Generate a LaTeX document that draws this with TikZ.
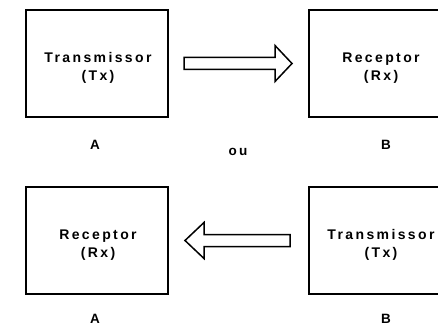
\documentclass[tikz,border=0pt]{standalone}
\usepackage{fontspec}
\setmainfont{Liberation Sans}
\newfontfamily\lblfont[LetterSpace=17]{Liberation Sans}
\usetikzlibrary{calc}
\begin{document}
\begin{tikzpicture}[x=1pt,y=-1pt,
  box/.style={draw=black,line width=2pt,minimum width=142pt,minimum height=107pt,inner sep=0pt},
  txt/.style={inner sep=0pt,anchor=base,font=\lblfont\bfseries\fontsize{14}{17}\selectfont},
  lbl/.style={inner sep=0pt,font=\lblfont\bfseries\fontsize{13.5}{16}\selectfont},
  blockarrow/.style={draw=black,line width=1.5pt,fill=white,line join=miter}]
\useasboundingbox (0,0) rectangle (438,326);
\node[box] (b1) at (97,63.5) {};
\node[box] (b2) at (380,63.5) {};
\node[box] (b3) at (97,240.5) {};
\node[box] (b4) at (380,240.5) {};
\node[txt] (b1t) at ($(b1.center)+(1,-0.8)$) {Transmissor};
\node[txt] (b1s) at ($(b1.center)+(1,17.2)$) {(Tx)};
\node[txt] (b2t) at ($(b2.center)+(1,-0.8)$) {Receptor};
\node[txt] (b2s) at ($(b2.center)+(1,17.2)$) {(Rx)};
\node[txt] (b3t) at ($(b3.center)+(1,-0.8)$) {Receptor};
\node[txt] (b3s) at ($(b3.center)+(1,17.2)$) {(Rx)};
\node[txt] (b4t) at ($(b4.center)+(1,-0.8)$) {Transmissor};
\node[txt] (b4s) at ($(b4.center)+(1,17.2)$) {(Tx)};
\node[lbl] (la1) at (95,144.5) {A};
\node[lbl] (lb1) at (386,144.5) {B};
\node[lbl] (ou) at (238,151.5) {ou};
\node[lbl] (la2) at (95,318.5) {A};
\node[lbl] (lb2) at (386,318.5) {B};
% top arrow
\coordinate (t1) at ($(b1.east)+(15,0)$);
\coordinate (t2) at ($(b2.west)+(-16,0)$);
\draw[blockarrow] ($(t1)+(0,-6)$) -- ($(t2)+(-17,-6)$) -- ($(t2)+(-17,-18)$) -- (t2)
  -- ($(t2)+(-17,18)$) -- ($(t2)+(-17,6)$) -- ($(t1)+(0,6)$) -- cycle;
% bottom arrow
\coordinate (u1) at ($(b4.west)+(-18,0)$);
\coordinate (u2) at ($(b3.east)+(16,0)$);
\draw[blockarrow] ($(u1)+(0,-6)$) -- ($(u2)+(19,-6)$) -- ($(u2)+(19,-18)$) -- (u2)
  -- ($(u2)+(19,18)$) -- ($(u2)+(19,6)$) -- ($(u1)+(0,6)$) -- cycle;
\end{tikzpicture}
\end{document}
